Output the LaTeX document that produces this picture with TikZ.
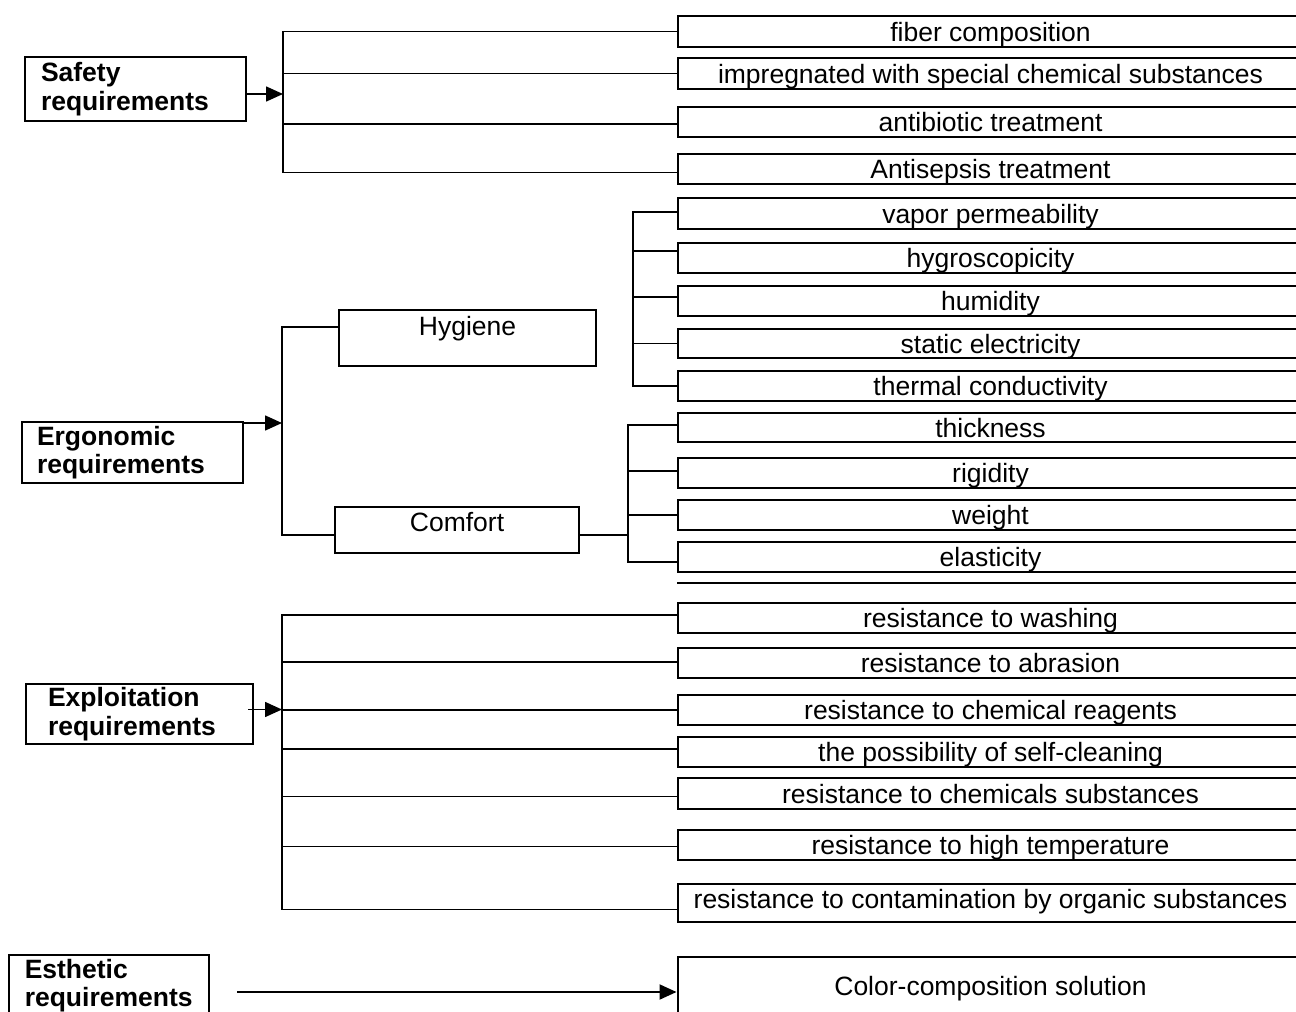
\documentclass[tikz,border=0pt]{standalone}
\usepackage{fontspec}
\setmainfont{Liberation Sans}
\usetikzlibrary{arrows.meta}
\tikzset{
  rbox/.style={draw, line width=2pt, minimum width=626pt, inner sep=0pt,
    text height=22pt, text depth=2.5pt, font=\fontsize{26.5}{28.5}\selectfont},
  lbox/.style={draw, line width=2pt, inner ysep=0pt, align=left,
    font=\fontsize{26.5}{28.5}\selectfont\bfseries},
  sbox/.style={draw, line width=2pt, inner sep=0pt},
  stext/.style={inner sep=0pt, font=\fontsize{26.5}{28.5}\selectfont},
  conn/.style={line width=1.6pt},
  arr/.style={conn, -{Triangle[length=17pt,width=15pt]}},
}
\begin{document}
\begin{tikzpicture}[x=1pt,y=-1pt]
\useasboundingbox (0,0) rectangle (1296,1012);
\clip (0,0) rectangle (1296,1012);

% left boxes
\node[lbox, text width=189pt, inner xsep=16pt, minimum height=64pt] (safety) at (135.5,89) {Safety\\requirements};
\node[lbox, text width=191pt, inner xsep=15pt, minimum height=61pt] (erg) at (132.5,452.5) {Ergonomic\\requirements};
\node[lbox, text width=183pt, inner xsep=22pt, minimum height=60pt] (expl) at (139.5,714) {Exploitation\\requirements};
\node[lbox, text width=168pt, inner xsep=15.75pt, minimum height=61pt] (esth) at (108.75,985.5) {Esthetic\\requirements};

% intermediate boxes
\node[sbox, minimum width=257pt, minimum height=56pt] (hyg) at (467.5,338) {};
\node[stext, anchor=base] (hygT) at (467.5,335) {Hygiene};
\node[sbox, minimum width=244pt, minimum height=46pt] (comf) at (457,530) {};
\node[stext, anchor=base] (comfT) at (457,531) {Comfort};

% right boxes
\node[rbox, minimum height=31pt] (fiber)  at (990.5,31.5) {fiber composition};
\node[rbox, minimum height=31pt] (impreg) at (990.5,73.5) {impregnated with special chemical substances};
\node[rbox, minimum height=30pt] (antib)  at (990.5,122) {antibiotic treatment};
\node[rbox, minimum height=30pt] (antis)  at (990.5,169) {Antisepsis treatment};
\node[rbox, minimum height=31pt] (vapor)  at (990.5,213.5) {vapor permeability};
\node[rbox, minimum height=30pt] (hygro)  at (990.5,258) {hygroscopicity};
\node[rbox, minimum height=30pt] (humid)  at (990.5,301) {humidity};
\node[rbox, minimum height=29pt] (static) at (990.5,343.5) {static electricity};
\node[rbox, minimum height=30pt] (thermal) at (990.5,386) {thermal conductivity};
\node[rbox, minimum height=29pt] (thick)  at (990.5,427.5) {thickness};
\node[rbox, minimum height=30pt] (rigid)  at (990.5,473) {rigidity};
\node[rbox, minimum height=30pt] (weight) at (990.5,515) {weight};
\node[rbox, minimum height=30pt] (elast)  at (990.5,557) {elasticity};
\node[rbox, minimum height=30pt] (wash)   at (990.5,618) {resistance to washing};
\node[rbox, minimum height=30pt] (abras)  at (990.5,663) {resistance to abrasion};
\node[rbox, minimum height=30pt] (reag)   at (990.5,710) {resistance to chemical reagents};
\node[rbox, minimum height=30pt] (selfc)  at (990.5,752) {the possibility of self-cleaning};
\node[rbox, minimum height=31pt] (chems)  at (990.5,793.5) {resistance to chemicals substances};
\node[rbox, minimum height=30pt] (hight)  at (990.5,845) {resistance to high temperature};
\node[rbox, minimum height=38pt, text height=18pt, text depth=6.5pt] (contam) at (990.5,903) {resistance to contamination by organic substances};
\node[rbox, minimum height=58pt] (color)  at (990.5,986) {Color-composition solution};

% stray line below elasticity
\draw[line width=2pt] (677,582.7) -- (1310,582.7);

% Safety connectors
\coordinate (sj) at (283,94);
\draw[arr] (safety.east |- sj) -- (sj);
\draw[conn] (fiber.west) -| (sj) |- ([yshift=-3.5pt]antis.west);
\draw[conn] (impreg.west) -| (sj);
\draw[conn] ([yshift=-2pt]antib.west) -| (sj);

% Ergonomic connectors
\coordinate (ej) at (282,423);
\draw[arr] (erg.east |- ej) -- (ej);
\draw[conn] ([yshift=11pt]hyg.west) -| (ej) |- ([yshift=-5pt]comf.west);

% Hygiene group
\coordinate (hg) at (633,300);
\draw[conn] ([yshift=1.5pt]vapor.west) -| (hg) |- (thermal.west);
\draw[conn] ([yshift=7pt]hygro.west) -| (hg);
\draw[conn] ([yshift=4pt]humid.west) -| (hg);
\draw[conn] (static.west) -| (hg);

% Comfort group
\coordinate (cg) at (628,500);
\draw[conn] ([yshift=-5pt]comf.east) -| (cg);
\draw[conn] ([yshift=2.5pt]thick.west) -| (cg) |- ([yshift=-5pt]elast.west);
\draw[conn] ([yshift=2pt]rigid.west) -| (cg);
\draw[conn] (weight.west) -| (cg);

% Exploitation connectors
\coordinate (xj) at (282,709.5);
\coordinate (xs) at (248,709.5);
\draw[arr] (xs) -- (xj);
\draw[conn] ([yshift=3pt]wash.west) -| (xj) |- ([yshift=-6.3pt]contam.west);
\draw[conn] ([yshift=1.3pt]abras.west) -| (xj);
\draw[conn] (reag.west) -| (xj);
\draw[conn] ([yshift=3pt]selfc.west) -| (xj);
\draw[conn] ([yshift=-3pt]chems.west) -| (xj);
\draw[conn] ([yshift=-1.3pt]hight.west) -| (xj);

% Esthetic connector
\coordinate (ea) at (237,992);
\draw[arr, line width=2pt] (ea) -- (ea -| color.west);
\end{tikzpicture}
\end{document}
